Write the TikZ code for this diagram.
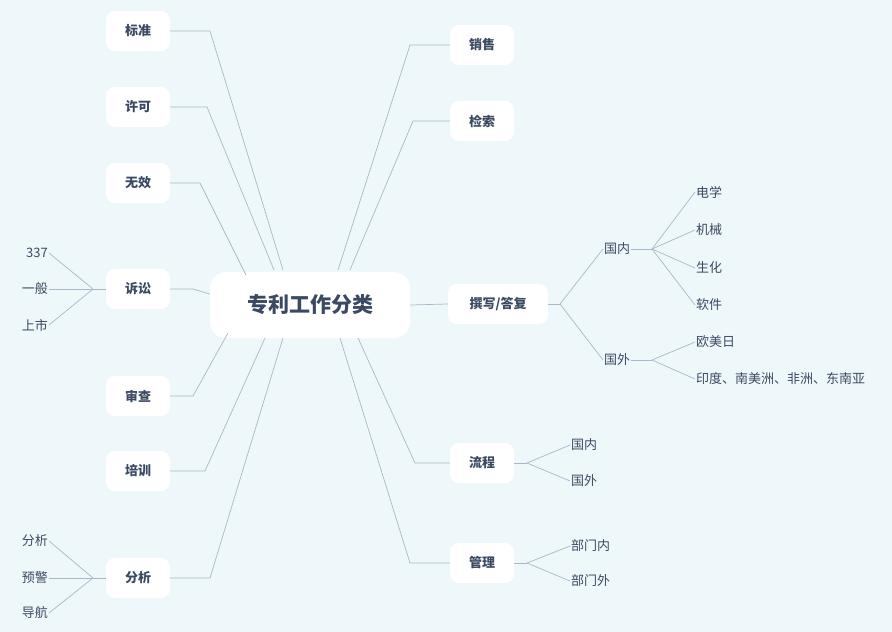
\documentclass[tikz,border=0pt]{standalone}
\usepackage{fontspec}
\setmainfont{Noto Sans CJK SC}
\begin{document}
\begin{tikzpicture}[x=1pt,y=-1pt,
  ln/.style={draw=lc,line width=0.7pt},
  topic/.style={fill=white,rounded corners=9pt,minimum width=64pt,minimum height=40pt,text=tc,font=\bfseries\fontsize{13}{13}\selectfont,inner sep=0pt},
  leaf/.style={text=tc,font=\fontsize{13}{13}\selectfont,inner sep=1pt}]
\definecolor{bg}{HTML}{EEF7FA}
\definecolor{lc}{HTML}{A9B8C8}
\definecolor{tc}{HTML}{3B4A63}
\fill[bg] (0,0) rectangle (892,632);
\useasboundingbox (0,0) rectangle (892,632);
\node[topic,minimum width=200pt,minimum height=66pt,rounded corners=16pt,font=\bfseries\fontsize{21}{21}\selectfont] (c) at (310,305) {专利工作分类};
\node[topic] (a1) at (138,31) {标准};
\node[topic] (a2) at (138,107) {许可};
\node[topic] (a3) at (138,183) {无效};
\node[topic] (a4) at (138,289) {诉讼};
\node[topic] (a5) at (138,396) {审查};
\node[topic] (a6) at (138,471) {培训};
\node[topic] (a7) at (138,578) {分析};
\node[topic] (b1) at (482,45) {销售};
\node[topic] (b2) at (482,121) {检索};
\node[topic,minimum width=100pt] (b3) at (498,304) {撰写/答复};
\node[topic] (b4) at (482,463) {流程};
\node[topic] (b5) at (482,563) {管理};
\draw[ln] (283,270) -- (210,31) -- (a1.east);
\draw[ln] (274,270) -- (207,107) -- (a2.east);
\draw[ln] (246,275) -- (200,183) -- (a3.east);
\draw[ln] (c.west) ++(0,-11) -- (193,289) -- (a4.east);
\draw[ln] (228,333) -- (193,396) -- (a5.east);
\draw[ln] (265,338) -- (205,471) -- (a6.east);
\draw[ln] (283,338) -- (210,578) -- (a7.east);
\draw[ln] (338,270) -- (410,45) -- (b1.west);
\draw[ln] (350,270) -- (413,121) -- (b2.west);
\draw[ln] (c.east) -- (b3.west);
\draw[ln] (358,338) -- (415,463) -- (b4.west);
\draw[ln] (340,338) -- (410,563) -- (b5.west);
% 诉讼
\coordinate (j4) at (93,289);
\draw[ln] (a4.west) -- (j4);
\node[leaf,anchor=east] (l41) at (49,253) {337};
\node[leaf,anchor=east] (l42) at (49,289) {一般};
\node[leaf,anchor=east] (l43) at (49,325) {上市};
\foreach \n in {l41,l42,l43} \draw[ln] (j4) -- (\n.east);
% 分析
\coordinate (j7) at (93,578);
\draw[ln] (a7.west) -- (j7);
\node[leaf,anchor=east] (l71) at (49,541) {分析};
\node[leaf,anchor=east] (l72) at (49,578) {预警};
\node[leaf,anchor=east] (l73) at (49,613) {导航};
\foreach \n in {l71,l72,l73} \draw[ln] (j7) -- (\n.east);
% 撰写
\coordinate (j3) at (560,304);
\draw[ln] (b3.east) -- (j3);
\node[leaf,anchor=west] (g1) at (603,249) {国内};
\node[leaf,anchor=west] (g2) at (603,360) {国外};
\draw[ln] (j3) -- (g1.west);
\draw[ln] (j3) -- (g2.west);
\coordinate (jg1) at (652,249);
\coordinate (jg2) at (652,360);
\draw[ln] (g1.east) -- (jg1);
\draw[ln] (g2.east) -- (jg2);
\node[leaf,anchor=west] (h1) at (695,192) {电学};
\node[leaf,anchor=west] (h2) at (695,230) {机械};
\node[leaf,anchor=west] (h3) at (695,268) {生化};
\node[leaf,anchor=west] (h4) at (695,305) {软件};
\foreach \n in {h1,h2,h3,h4} \draw[ln] (jg1) -- (\n.west);
\node[leaf,anchor=west] (k1) at (695,342) {欧美日};
\node[leaf,anchor=west] (k2) at (695,379) {印度、南美洲、非洲、东南亚};
\foreach \n in {k1,k2} \draw[ln] (jg2) -- (\n.west);
% 流程
\coordinate (j5) at (527,463);
\draw[ln] (b4.east) -- (j5);
\node[leaf,anchor=west] (p1) at (570,445) {国内};
\node[leaf,anchor=west] (p2) at (570,481) {国外};
\foreach \n in {p1,p2} \draw[ln] (j5) -- (\n.west);
% 管理
\coordinate (j6) at (527,563);
\draw[ln] (b5.east) -- (j6);
\node[leaf,anchor=west] (m1) at (570,546) {部门内};
\node[leaf,anchor=west] (m2) at (570,581) {部门外};
\foreach \n in {m1,m2} \draw[ln] (j6) -- (\n.west);
\end{tikzpicture}
\end{document}
